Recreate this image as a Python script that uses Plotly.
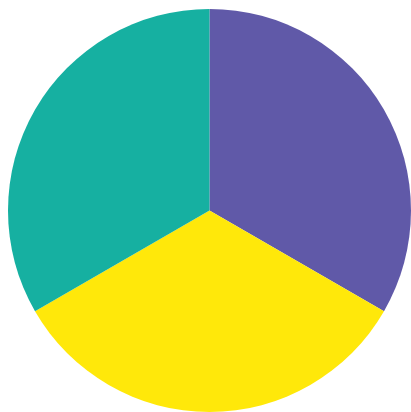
import plotly.graph_objects as go

categories = ["Purple", "Yellow", "Teal"]
values = [1, 1, 1]
colors = ["#6059a8", "#ffe80a", "#16b0a1"]

fig = go.Figure(
    go.Pie(
        labels=categories,
        values=values,
        sort=False,
        direction="clockwise",
        rotation=0,
        marker=dict(colors=colors, line=dict(width=0)),
        textinfo="none",
        hoverinfo="label+percent",
        domain=dict(x=[8 / 411, 1.0], y=[0.0, 1 - 9 / 412]),
    )
)
fig.update_layout(
    width=411,
    height=412,
    margin=dict(l=0, r=0, t=0, b=0),
    paper_bgcolor="white",
    plot_bgcolor="white",
    showlegend=False,
)
fig.write_html(
    "out.html",
    config={"displayModeBar": False},
    post_script="document.body.style.margin='0';document.body.style.overflow='hidden';",
)
